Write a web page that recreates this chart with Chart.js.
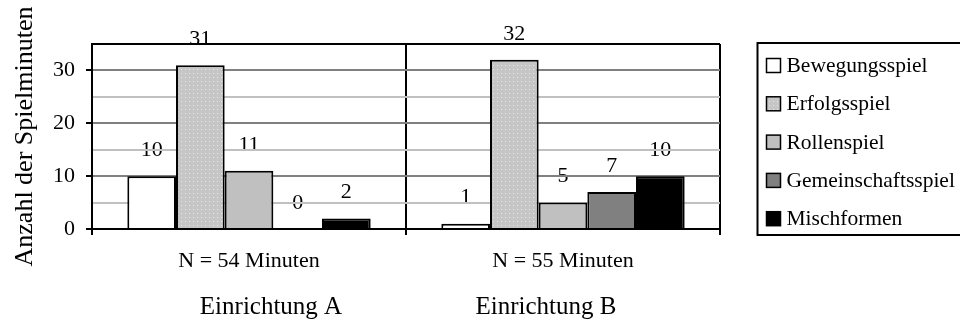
<!DOCTYPE html>
<html>
<head>
<meta charset="utf-8">
<script src="https://cdn.jsdelivr.net/npm/chart.js@4"></script>
<style>
  html, body { margin: 0; padding: 0; background: #fff; }
  #wrap { width: 960px; height: 320px; }
</style>
</head>
<body>
<div id="wrap"><canvas id="c" width="960" height="320"></canvas></div>
<script>
// Spielminuten je Spielform, zwei Einrichtungen
const categories = ['N = 54 Minuten', 'N = 55 Minuten'];
const groupTitles = ['Einrichtung A', 'Einrichtung B'];
const seriesNames = ['Bewegungsspiel', 'Erfolgsspiel', 'Rollenspiel', 'Gemeinschaftsspiel', 'Mischformen'];
const bewegungsspiel = [10, 1];
const erfolgsspiel = [31, 32];
const rollenspiel = [11, 5];
const gemeinschaftsspiel = [0, 7];
const mischformen = [2, 10];
const yTickLabels = [0, 10, 20, 30];
const yAxisTitle = 'Anzahl der Spielminuten';

const SERIF = '"Liberation Serif", "Times New Roman", serif';

// light grey fill with a fine dot raster
function dotPattern(ctx) {
  const t = document.createElement('canvas');
  t.width = 4; t.height = 4;
  const g = t.getContext('2d');
  g.fillStyle = '#c6c6c6';
  g.fillRect(0, 0, 4, 4);
  g.fillStyle = '#e6e6e6';
  g.fillRect(1, 1, 1, 1);
  return ctx.createPattern(t, 'repeat');
}

const canvas = document.getElementById('c');
const ctx2d = canvas.getContext('2d');
const dotted = dotPattern(ctx2d);

const seriesValues = [bewegungsspiel, erfolgsspiel, rollenspiel, gemeinschaftsspiel, mischformen];
const seriesFills = ['#ffffff', dotted, '#c0c0c0', '#808080', '#000000'];

// value labels sit behind the grid, so they are painted first
const valueLabels = {
  id: 'valueLabels',
  beforeDraw(chart) {
    const ctx = chart.ctx;
    ctx.save();
    ctx.font = '22px ' + SERIF;
    ctx.fillStyle = '#000';
    ctx.textAlign = 'center';
    ctx.textBaseline = 'middle';
    chart.data.datasets.forEach((ds, i) => {
      chart.getDatasetMeta(i).data.forEach((bar, j) => {
        ctx.fillText(String(ds.data[j]), bar.x, bar.y - 26);
      });
    });
    ctx.restore();
  }
};

// group titles under the axis and the boxed legend on the right
const extras = {
  id: 'extras',
  afterDraw(chart) {
    const ctx = chart.ctx;
    const area = chart.chartArea;
    const xs = chart.scales.x;
    ctx.save();
    ctx.fillStyle = '#000';
    ctx.textBaseline = 'middle';
    ctx.textAlign = 'center';
    ctx.font = '25px ' + SERIF;
    const shift = [22, -17];
    groupTitles.forEach((t, i) => {
      ctx.fillText(t, xs.getPixelForValue(i) + shift[i], area.bottom + 78);
    });

    // legend frame
    const boxLeft = area.right + 37.5;
    const boxTop = 43;
    const boxBottom = 235;
    ctx.strokeStyle = '#000';
    ctx.lineWidth = 2;
    ctx.strokeRect(boxLeft, boxTop, chart.width - boxLeft + 10, boxBottom - boxTop);

    ctx.textAlign = 'left';
    ctx.font = '21.5px ' + SERIF;
    chart.data.datasets.forEach((ds, i) => {
      const cy = 65.5 + i * 38.3;
      const mx = boxLeft + 9;
      ctx.fillStyle = ds.backgroundColor;
      ctx.fillRect(mx, cy - 7, 14, 14);
      ctx.lineWidth = 1.5;
      ctx.strokeStyle = '#000';
      ctx.strokeRect(mx, cy - 7, 14, 14);
      ctx.fillStyle = '#000';
      ctx.fillText(ds.label, mx + 20, cy + 1);
    });
    ctx.restore();
  }
};

new Chart(canvas, {
  type: 'bar',
  data: {
    labels: categories,
    datasets: seriesNames.map((name, i) => ({
      label: name,
      data: seriesValues[i],
      backgroundColor: seriesFills[i],
      borderColor: '#000',
      borderWidth: 2,
      borderSkipped: 'bottom'
    }))
  },
  options: {
    responsive: false,
    animation: false,
    events: [],
    layout: { padding: { top: 44, right: 240, left: 0, bottom: 0 } },
    datasets: { bar: { categoryPercentage: 0.775, barPercentage: 1 } },
    plugins: { legend: { display: false }, tooltip: { enabled: false } },
    scales: {
      x: {
        grid: { offset: true, color: '#000', lineWidth: 2, tickLength: 6, tickColor: '#000', tickWidth: 2 },
        border: { color: '#000', width: 2 },
        ticks: { font: { family: SERIF, size: 22 }, color: '#000', padding: 13, maxRotation: 0 },
        afterFit(s) { s.height = 91; }
      },
      y: {
        min: 0,
        max: 35,
        ticks: {
          stepSize: 5,
          autoSkip: false,
          font: { family: SERIF, size: 22 },
          color: '#000',
          padding: 11,
          callback: v => (yTickLabels.includes(v) ? String(v) : '')
        },
        grid: {
          lineWidth: 2,
          tickLength: 6,
          tickWidth: 2,
          color: c => {
            const v = c.tick.value;
            if (v === 0 || v === 35) return '#000';
            return v % 10 === 0 ? '#808080' : '#c0c0c0';
          },
          tickColor: c => (yTickLabels.includes(c.tick.value) ? '#000' : 'rgba(0,0,0,0)')
        },
        border: { color: '#000', width: 2 },
        title: {
          display: true,
          text: yAxisTitle,
          font: { family: SERIF, size: 26 },
          color: '#000',
          padding: { top: 10, bottom: 0 }
        },
        afterFit(s) { s.width = 92; }
      }
    }
  },
  plugins: [valueLabels, extras]
});
</script>
</body>
</html>
